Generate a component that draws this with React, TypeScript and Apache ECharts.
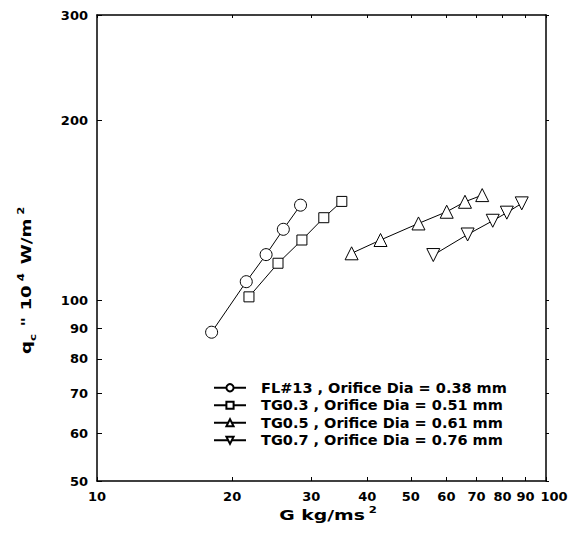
import React, { useEffect, useRef } from "react";
import * as echarts from "echarts";

const xTickValues = [10, 20, 30, 40, 50, 60, 70, 80, 90, 100];
const xLabelValues = [10, 20, 30, 40, 50, 60, 70, 80, 90];
const xEndLabelValues = [100];
const yTickValues = [50, 60, 70, 80, 90, 100, 200, 300];

const seriesNames = [
  "FL#13 , Orifice Dia = 0.38 mm",
  "TG0.3 , Orifice Dia = 0.51 mm",
  "TG0.5 , Orifice Dia = 0.61 mm",
  "TG0.7 , Orifice Dia = 0.76 mm",
];

const fl13G = [18.0, 21.5, 23.8, 26.0, 28.4];
const fl13Q = [88.6, 107.6, 119.4, 131.6, 144.4];
const tg03G = [21.8, 25.3, 28.6, 32.0, 35.1];
const tg03Q = [101.5, 115.5, 126.3, 137.6, 146.5];
const tg05G = [36.9, 42.8, 52.0, 60.1, 66.0, 72.1];
const tg05Q = [120.0, 126.3, 134.6, 140.8, 146.3, 150.1];
const tg07G = [56.1, 66.9, 76.1, 81.8, 88.3];
const tg07Q = [119.2, 129.0, 136.0, 140.3, 145.4];

const FONT = "'DejaVu Sans', 'Liberation Sans', Arial, sans-serif";

function pairs(xs: number[], ys: number[]) {
  return xs.map((x, i) => [x, ys[i]]);
}

export default function App() {
  const ref = useRef<HTMLDivElement>(null);
  useEffect(() => {
    if (!ref.current) return;
    const chart = echarts.init(ref.current, undefined, { renderer: "svg" });
    const lineStyle = { color: "#000", width: 1 };
    const itemStyle = { color: "#fff", borderColor: "#000", borderWidth: 1 };
    const mk = (name: string, data: number[][], symbol: string, size: number, rot = 0) => ({
      name,
      type: "line",
      data,
      symbol,
      symbolSize: size,
      symbolRotate: rot,
      showAllSymbol: true,
      lineStyle,
      itemStyle,
      emphasis: { disabled: true },
      z: 3,
    });
    const axisLine = { show: true, lineStyle: { color: "#000", width: 1.5 } };
    const tickLabel = {
      fontFamily: FONT,
      fontWeight: "bold",
      fontSize: 13,
      color: "#000",
      showMinLabel: true,
      showMaxLabel: true,
      hideOverlap: false,
    };
    const fmt = (v: number) => String(Math.round(v));
    chart.setOption({
      animation: false,
      backgroundColor: "#fff",
      grid: { left: 97, right: 24, top: 15, bottom: 61, containLabel: false, outerBoundsMode: "none" },
      legend: {
        orient: "vertical",
        left: 208,
        top: 374,
        itemWidth: 32,
        itemHeight: 9,
        itemGap: 0,
        selectedMode: false,
        data: seriesNames,
        textStyle: {
          fontFamily: FONT,
          fontWeight: "bold",
          fontSize: 14.5,
          color: "#000",
          lineHeight: 17.5,
          padding: [0, 0, 0, 10],
        },
      },
      xAxis: [
        {
          type: "log",
          logBase: 10,
          min: 10,
          max: 100,
          position: "bottom",
          axisLine,
          axisTick: { show: true, inside: true, length: 4, customValues: xTickValues, lineStyle: { color: "#000" } },
          axisLabel: {
            show: true,
            customValues: xLabelValues,
            margin: 9,
            ...tickLabel,
            formatter: fmt,
          },
          splitLine: { show: false },
          minorTick: { show: false },
        },
        {
          type: "log",
          logBase: 10,
          min: 10,
          max: 100,
          position: "top",
          axisLine,
          axisTick: { show: true, inside: true, length: 3, customValues: xTickValues, lineStyle: { color: "#000" } },
          axisLabel: { show: false },
          splitLine: { show: false },
        },
        {
          type: "log",
          logBase: 10,
          min: 10,
          max: 100,
          position: "bottom",
          axisLine: { show: false },
          axisTick: { show: false },
          axisLabel: {
            show: true,
            customValues: xEndLabelValues,
            margin: 9,
            ...tickLabel,
            formatter: (v: number) => "{r|" + fmt(v) + "}",
            rich: {
              r: { fontFamily: FONT, fontWeight: "bold", fontSize: 13, color: "#000", padding: [0, 0, 0, 16] },
            },
          },
          splitLine: { show: false },
        },
      ],
      yAxis: [
        {
          type: "log",
          logBase: 10,
          min: 50,
          max: 300,
          position: "left",
          axisLine,
          axisTick: { show: true, inside: true, length: 5, customValues: yTickValues, lineStyle: { color: "#000" } },
          axisLabel: {
            show: true,
            customValues: yTickValues,
            margin: 9,
            ...tickLabel,
            formatter: fmt,
          },
          splitLine: { show: false },
        },
        {
          type: "log",
          logBase: 10,
          min: 50,
          max: 300,
          position: "right",
          axisLine,
          axisTick: { show: true, inside: false, length: 3, customValues: yTickValues, lineStyle: { color: "#000" } },
          axisLabel: { show: false },
          splitLine: { show: false },
        },
      ],
      graphic: [
        {
          type: "text",
          x: 27,
          y: 279,
          rotation: Math.PI / 2,
          scaleX: 1.3,
          style: {
            text: "{b|q}{sub|c}{b| \" 10}{sup|4}{b| W/m}{sup|2}",
            align: "center",
            verticalAlign: "middle",
            rich: {
              b: { fontFamily: FONT, fontWeight: "bold", fontSize: 14, fill: "#000", verticalAlign: "bottom", padding: [0, 0, 4, 0] },
              sub: { fontFamily: FONT, fontWeight: "bold", fontSize: 9, fill: "#000", verticalAlign: "bottom", padding: [0, 1, 0, 0] },
              sup: { fontFamily: FONT, fontWeight: "bold", fontSize: 9, fill: "#000", verticalAlign: "bottom", padding: [0, 2, 12, 3] },
            },
          },
        },
        {
          type: "text",
          x: 328,
          y: 514,
          scaleX: 1.3,
          style: {
            text: "{b|G kg/ms}{sup|2}",
            align: "center",
            verticalAlign: "middle",
            rich: {
              b: { fontFamily: FONT, fontWeight: "bold", fontSize: 14.5, fill: "#000", verticalAlign: "bottom", padding: [0, 0, 0, 0] },
              sup: { fontFamily: FONT, fontWeight: "bold", fontSize: 9, fill: "#000", verticalAlign: "bottom", padding: [0, 0, 8, 3] },
            },
          },
        },
      ],
      series: [
        mk(seriesNames[0], pairs(fl13G, fl13Q), "circle", 12),
        mk(seriesNames[1], pairs(tg03G, tg03Q), "rect", 10),
        mk(seriesNames[2], pairs(tg05G, tg05Q), "triangle", 13),
        mk(seriesNames[3], pairs(tg07G, tg07Q), "triangle", 13, 180),
      ],
    });
    return () => chart.dispose();
  }, []);
  return <div ref={ref} style={{ position: "absolute", left: 0, top: 0, width: 570, height: 542, background: "#fff" }} />;
}
